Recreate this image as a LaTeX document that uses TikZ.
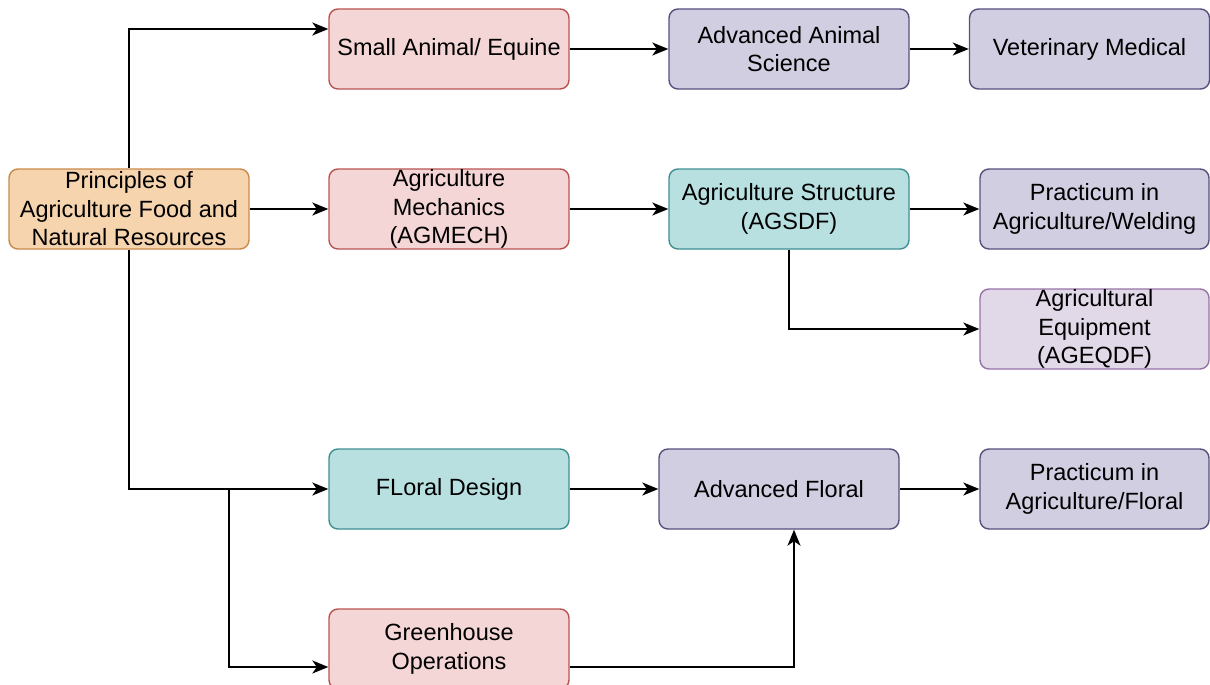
\documentclass[tikz,border=0pt]{standalone}
\usepackage{fontspec}
\setmainfont{Liberation Sans}
\usetikzlibrary{arrows.meta}
\definecolor{orfill}{HTML}{F6D4AE}
\definecolor{ordraw}{HTML}{C8894B}
\definecolor{rdfill}{HTML}{F5D6D6}
\definecolor{rddraw}{HTML}{B85450}
\definecolor{pufill}{HTML}{D0CEE0}
\definecolor{pudraw}{HTML}{56517E}
\definecolor{tefill}{HTML}{B8E0E0}
\definecolor{tedraw}{HTML}{3F8F92}
\definecolor{lpfill}{HTML}{E1D8E8}
\definecolor{lpdraw}{HTML}{9673A6}
\tikzset{
  box/.style={rounded corners=9pt, line width=1.4pt, minimum height=80pt,
    minimum width=240pt, align=center, inner sep=0pt,
    font=\fontsize{23.5}{28.5}\selectfont},
  orbox/.style={box, fill=orfill, draw=ordraw},
  rdbox/.style={box, fill=rdfill, draw=rddraw},
  pubox/.style={box, fill=pufill, draw=pudraw},
  tebox/.style={box, fill=tefill, draw=tedraw},
  lpbox/.style={box, fill=lpfill, draw=lpdraw},
  narrow/.style={minimum width=229pt},
  arr/.style={line width=1.5pt, -{Stealth[length=16pt,width=13pt,inset=4.5pt]}},
}
\begin{document}
\begin{tikzpicture}[x=1pt,y=-1pt]
\useasboundingbox (0,0) rectangle (1210,685);
\node[orbox] (pr) at (129,209) {Principles of\\Agriculture Food and\\Natural Resources};
\node[rdbox] (sa) at (449,49) {Small Animal/ Equine};
\node[pubox] (aa) at (789,49) {Advanced Animal\\Science};
\node[pubox] (vm) at (1089.5,49) {Veterinary Medical};
\node[rdbox] (am) at (449,209) {Agriculture\\Mechanics\\(AGMECH)};
\node[tebox] (as) at (789,209) {Agriculture Structure\\(AGSDF)};
\node[pubox,narrow] (pw) at (1094.5,209) {Practicum in\\Agriculture/Welding};
\node[lpbox,narrow] (ae) at (1094.5,329) {Agricultural\\Equipment\\(AGEQDF)};
\node[tebox] (fd) at (449,489) {FLoral Design};
\node[pubox] (af) at (779,489) {Advanced Floral};
\node[pubox,narrow] (pf) at (1094.5,489) {Practicum in\\Agriculture/Floral};
\node[rdbox] (gh) at (449,649) {Greenhouse\\Operations};
\coordinate (br) at (229,489);
% connectors
\draw[arr] (pr.north) |- ([yshift=20pt]sa.west);
\draw[arr] (pr.east) -- (am.west);
\draw[arr] (pr.south) |- (fd.west);
\draw[arr] (br) |- ([yshift=-18pt]gh.west);
\draw[arr] (sa.east) -- (aa.west);
\draw[arr] (aa.east) -- (vm.west);
\draw[arr] (am.east) -- (as.west);
\draw[arr] (as.east) -- (pw.west);
\draw[arr] (as.south) |- (ae.west);
\draw[arr] (fd.east) -- (af.west);
\draw[arr] (af.east) -- (pf.west);
\draw[arr] ([yshift=-18pt]gh.east) -| ([xshift=15pt]af.south);
\end{tikzpicture}
\end{document}
